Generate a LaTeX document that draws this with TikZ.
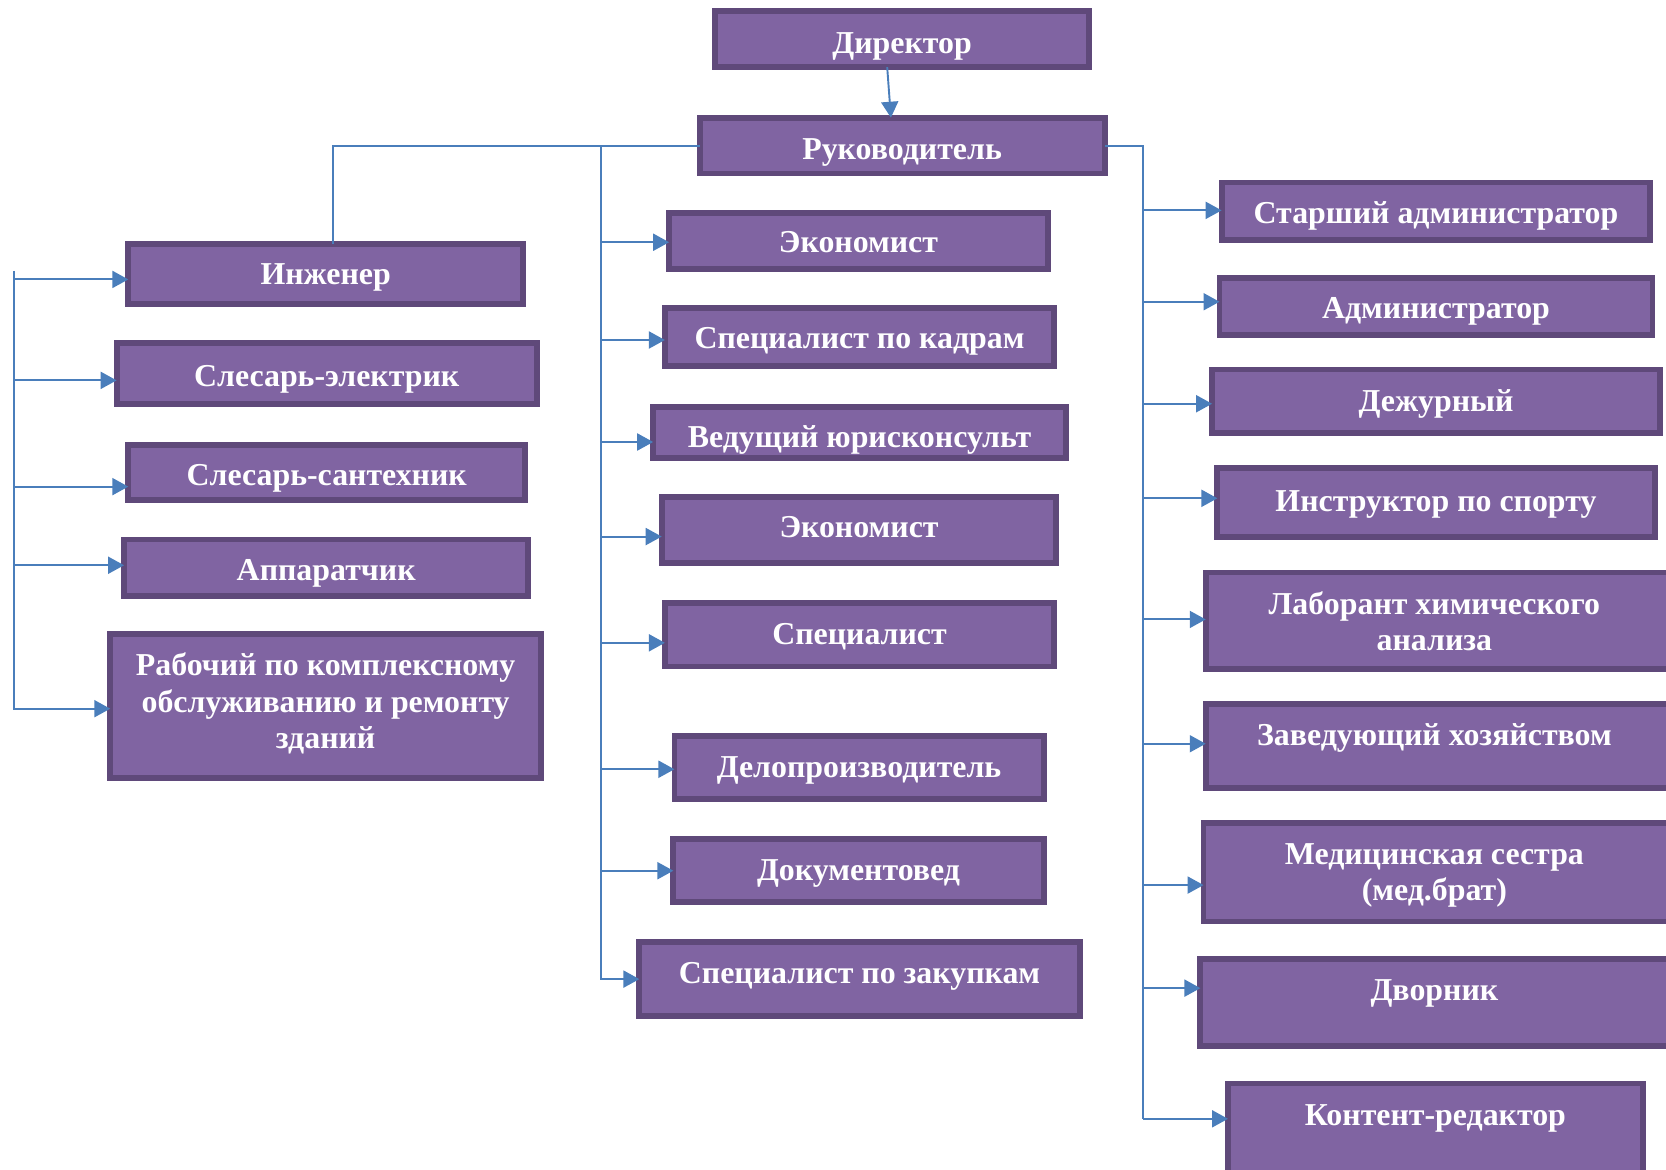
\documentclass[tikz,border=0pt]{standalone}
\usepackage{fontspec}
\setmainfont{Liberation Serif}
\usetikzlibrary{arrows.meta,calc}
\definecolor{boxfill}{HTML}{8064A2}
\definecolor{boxline}{HTML}{5F497A}
\definecolor{conn}{HTML}{4A7EBB}
\newcommand\orgbox[5]{\node[orgrect, minimum width={(#4-#2-5.5)*0.5pt}, minimum height={(#5-#3-5.5)*0.5pt}] (#1) at ({(#2+#4)/2},{(#3+#5)/2}) {};}
\begin{document}
\begin{tikzpicture}[x=0.5pt,y=-0.5pt,
  orgrect/.style={rectangle, draw=boxline, fill=boxfill, line width=2.75pt, inner sep=0pt, outer sep=0pt},
  lbl/.style={text=white, font=\fontsize{15pt}{17pt}\selectfont\bfseries, inner sep=0pt, align=center},
  ln/.style={draw=conn, line width=0.9pt},
  arr/.style={ln, -{Triangle[length=7.5pt,width=8pt]}}]
\useasboundingbox (0,0) rectangle (1568,1101);
\clip (0,0) rectangle (1568,1101);
\fill[white] (0,0) rectangle (1568,1101);

% boxes
\orgbox{dir}{670}{8}{1028}{66}
\orgbox{ruk}{656}{108}{1043}{166}
\orgbox{eco}{627}{198}{989}{256}
\orgbox{kadr}{623}{287}{995}{347}
\orgbox{jur}{612}{380}{1006}{434}
\orgbox{ecob}{620}{465}{997}{533}
\orgbox{spec}{623}{565}{995}{630}
\orgbox{delo}{632}{690}{985}{755}
\orgbox{doc}{631}{787}{985}{852}
\orgbox{zak}{599}{884}{1019}{959}
\orgbox{inzh}{118}{227}{495}{289}
\orgbox{elec}{107}{320}{508}{383}
\orgbox{sant}{118}{416}{497}{473}
\orgbox{appa}{114}{505}{500}{564}
\orgbox{rab}{101}{594}{512}{735}
\orgbox{star}{1147}{169}{1556}{229}
\orgbox{adm}{1145}{259}{1558}{318}
\orgbox{dezh}{1138}{345}{1565}{410}
\orgbox{instr}{1143}{438}{1560}{508}
\orgbox{lab}{1132}{536}{1575}{632}
\orgbox{zav}{1132}{660}{1575}{744}
\orgbox{med}{1130}{772}{1575}{870}
\orgbox{dvor}{1127}{900}{1575}{987}
\orgbox{kont}{1153}{1017}{1549}{1110}

% texts
\node[lbl, anchor=base] (dirT) at (849,50) {Директор};
\node[lbl, anchor=base] (rukT) at (849,150) {Руководитель};
\node[lbl, anchor=base] (ecoT) at (808,238) {Экономист};
\node[lbl, anchor=base] (kadrT) at (809,328) {Специалист по кадрам};
\node[lbl, anchor=base] (jurT) at (809,421) {Ведущий юрисконсульт};
\node[lbl, anchor=base] (ecobT) at (808.5,506) {Экономист};
\node[lbl, anchor=base] (specT) at (809,607) {Специалист};
\node[lbl, anchor=base] (deloT) at (808.5,732) {Делопроизводитель};
\node[lbl, anchor=base] (docT) at (808,829) {Документовед};
\node[lbl, anchor=base] (zakT) at (809,926) {Специалист по закупкам};
\node[lbl, anchor=base] (inzhT) at (306.5,268) {Инженер};
\node[lbl, anchor=base] (elecT) at (307.5,364) {Слесарь-электрик};
\node[lbl, anchor=base] (santT) at (307.5,457) {Слесарь-сантехник};
\node[lbl, anchor=base] (appaT) at (307,546) {Аппаратчик};
\node[lbl] (rabT) at (306.5,662) {Рабочий по комплексному\\обслуживанию и ремонту\\зданий};
\node[lbl, anchor=base] (starT) at (1351.5,210) {Старший администратор};
\node[lbl, anchor=base] (admT) at (1351.5,300) {Администратор};
\node[lbl, anchor=base] (dezhT) at (1351.5,387) {Дежурный};
\node[lbl, anchor=base] (instrT) at (1351.5,481) {Инструктор по спорту};
\node[lbl] (labT) at (1350,585) {Лаборант химического\\анализа};
\node[lbl, anchor=base] (zavT) at (1350,702) {Заведующий хозяйством};
\node[lbl] (medT) at (1350,824) {Медицинская сестра\\(мед.брат)};
\node[lbl, anchor=base] (dvorT) at (1350,942) {Дворник};
\node[lbl, anchor=base] (kontT) at (1351,1059) {Контент-редактор};

% trunk coordinates
\coordinate (cTop) at (566,137);
\coordinate (cBot) at (566,922);
\coordinate (lTop) at (13,255);
\coordinate (lBot) at (13,668);
\coordinate (rTop) at (1076,137);
\coordinate (rBot) at (1076,1053);
\coordinate (inzhTop) at ($(inzh.north)+(6.5,0)$);

% director -> manager
\draw[arr] ($(dir.south)+(-14,0)$) -- ($(ruk.north)+(-11,0)$);

% manager -> branches
\draw[ln] (ruk.west) -- (ruk.west -| inzhTop) -- (inzhTop);
\draw[ln] (cTop) -- (cBot);
\draw[ln] (ruk.east) -- (rTop) -- (rBot);
\draw[ln] (lTop) -- (lBot);

% center arrows
\draw[arr] ($(cTop |- eco.west)+(0,1)$) -- ($(eco.west)+(0,1)$);
\draw[arr] ($(cTop |- kadr.west)+(0,3)$) -- ($(kadr.west)+(0,3)$);
\draw[arr] ($(cTop |- jur.west)+(0,9)$) -- ($(jur.west)+(0,9)$);
\draw[arr] ($(cTop |- ecob.west)+(0,6)$) -- ($(ecob.west)+(0,6)$);
\draw[arr] ($(cTop |- spec.west)+(0,7.5)$) -- ($(spec.west)+(0,7.5)$);
\draw[arr] ($(cTop |- delo.west)+(0,1.5)$) -- ($(delo.west)+(0,1.5)$);
\draw[arr] (cTop |- doc.west) -- (doc.west);
\draw[arr] (cTop |- zak.west) -- (zak.west);

% left arrows
\draw[arr] ($(lTop |- inzh.west)+(0,5)$) -- ($(inzh.west)+(0,5)$);
\draw[arr] ($(lTop |- elec.west)+(0,6.5)$) -- ($(elec.west)+(0,6.5)$);
\draw[arr] ($(lTop |- sant.west)+(0,13.5)$) -- ($(sant.west)+(0,13.5)$);
\draw[arr] ($(lTop |- appa.west)+(0,-2.5)$) -- ($(appa.west)+(0,-2.5)$);
\draw[arr] ($(lTop |- rab.west)+(0,2.5)$) -- ($(rab.west)+(0,2.5)$);

% right arrows
\draw[arr] ($(rTop |- star.west)+(0,-1)$) -- ($(star.west)+(0,-1)$);
\draw[arr] ($(rTop |- adm.west)+(0,-4.5)$) -- ($(adm.west)+(0,-4.5)$);
\draw[arr] ($(rTop |- dezh.west)+(0,2.5)$) -- ($(dezh.west)+(0,2.5)$);
\draw[arr] ($(rTop |- instr.west)+(0,-4)$) -- ($(instr.west)+(0,-4)$);
\draw[arr] ($(rTop |- lab.west)+(0,-1)$) -- ($(lab.west)+(0,-1)$);
\draw[arr] ($(rTop |- zav.west)+(0,-2)$) -- ($(zav.west)+(0,-2)$);
\draw[arr] ($(rTop |- med.west)+(0,12)$) -- ($(med.west)+(0,12)$);
\draw[arr] ($(rTop |- dvor.west)+(0,-13.5)$) -- ($(dvor.west)+(0,-13.5)$);
\draw[arr] ($(rTop |- kont.west)+(0,-10.5)$) -- ($(kont.west)+(0,-10.5)$);
\end{tikzpicture}
\end{document}
